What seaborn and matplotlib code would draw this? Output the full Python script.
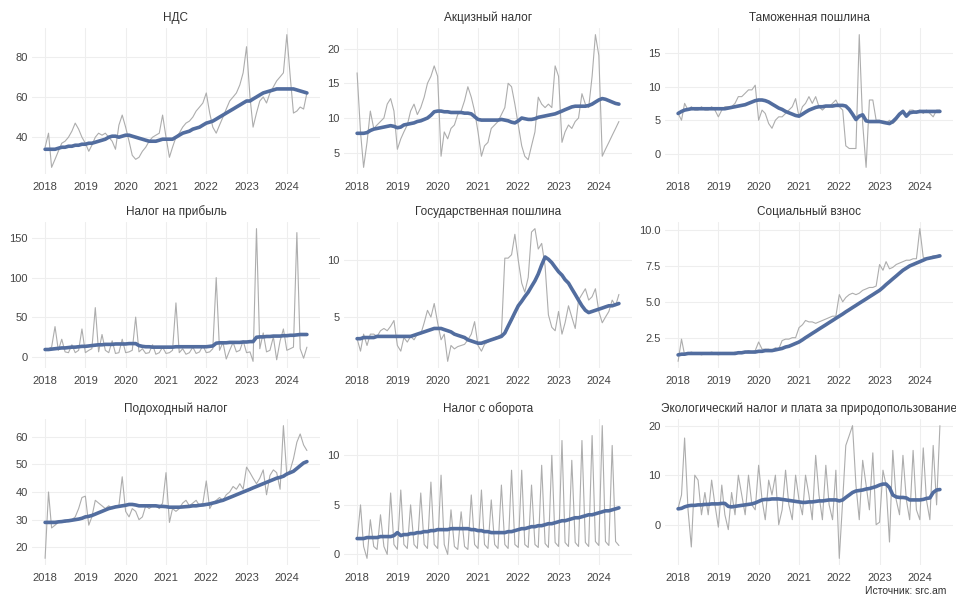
import matplotlib
matplotlib.use("Agg")
import matplotlib.pyplot as plt
import matplotlib.dates as mdates
import seaborn as sns
import pandas as pd

# monthly data, Jan 2018 - Jul 2024
months = pd.date_range("2018-01-01", periods=79, freq="MS")

titles = ["НДС", "Акцизный налог", "Таможенная пошлина",
          "Налог на прибыль", "Государственная пошлина", "Социальный взнос",
          "Подоходный налог", "Налог с оборота",
          "Экологический налог и плата за природопользование"]

vat = [35, 42, 25, 29, 33, 37, 38, 40, 43, 47, 44, 40,
       37, 33, 36, 40, 42, 41, 42, 40, 38, 34, 46, 51,
       45, 38, 31, 29, 30, 33, 35, 38, 40, 41, 42, 51,
       40, 30, 35, 40, 42, 45, 47, 48, 50, 53, 55, 57,
       62, 52, 45, 42, 46, 50, 54, 58, 60, 62, 66, 72,
       85, 60, 45, 52, 58, 60, 57, 62, 65, 68, 70, 72,
       91, 70, 52, 53, 55, 54, 62]
vat_trend = [34, 34, 34, 34, 34.5, 35, 35, 35.5, 35.5, 36, 36, 36.5,
             36.5, 37, 37, 37.5, 38, 38.5, 39, 40, 40.5, 40.5, 40, 40.5,
             41, 41, 40.5, 40, 39.5, 39, 38.5, 38, 38, 38, 38.5, 39,
             39, 39, 39, 40, 41, 42, 42.5, 43, 44, 44.5, 45, 46,
             47, 47.5, 48, 49, 50, 51, 52, 53, 54, 55, 56, 57,
             58, 58, 59, 60, 61, 62, 62.5, 63, 63.5, 64, 64, 64,
             64, 64, 64, 63.5, 63, 62.5, 62]

excise = [16.5, 8, 2.9, 6.5, 11, 8.5, 9, 9.5, 10, 12, 12.8, 11,
          5.5, 7, 8, 9, 11, 12, 10.5, 11.5, 13, 15, 16, 17.5,
          16, 4.5, 8, 7, 8.5, 9, 10.5, 11, 12.5, 14.5, 13, 11,
          8, 4.5, 6, 6.5, 8.5, 9, 9.5, 10.5, 11.5, 15, 14.5, 12,
          9, 6, 4.5, 4, 6, 8, 13, 12, 11.5, 12, 11.5, 17.5,
          16, 6.5, 8, 9, 8.5, 9.5, 10, 13.5, 12, 11.5, 16, 22,
          19, 4.5, 5.5, 6.5, 7.5, 8.5, 9.5]
excise_trend = [7.8, 7.8, 7.8, 7.9, 8.2, 8.4, 8.5, 8.6, 8.7, 8.8, 8.9, 8.8,
                8.6, 8.7, 9.0, 9.1, 9.2, 9.3, 9.5, 9.6, 9.8, 10.0, 10.4, 10.9,
                11.0, 11.0, 10.9, 10.9, 10.8, 10.8, 10.8, 10.8, 10.7, 10.7, 10.6, 10.2,
                9.8, 9.7, 9.7, 9.7, 9.7, 9.7, 9.7, 9.8, 9.7, 9.6, 9.4, 9.3,
                9.6, 10.0, 9.9, 9.8, 9.8, 9.9, 10.1, 10.2, 10.3, 10.4, 10.5, 10.6,
                10.8, 11.0, 11.2, 11.4, 11.6, 11.7, 11.7, 11.7, 11.7, 11.8, 12.0, 12.3,
                12.6, 12.8, 12.7, 12.5, 12.3, 12.1, 12.0]

customs = [6, 5, 7.5, 6.5, 7, 6.5, 6.5, 7, 6.5, 6.5, 7, 6.5,
           5.5, 6.5, 7, 7, 7, 7.5, 8.5, 8.5, 9, 9.5, 9.5, 10.2,
           5, 6.5, 6, 4.5, 3.8, 5, 5.5, 5.5, 6, 6.5, 7, 8.2,
           5.5, 7, 7.5, 8.5, 7.5, 8.5, 7, 6.5, 7, 7, 7.5, 8,
           7, 6.5, 1.2, 0.8, 0.8, 0.8, 17.7, 4.5, -2, 8, 8, 5,
           5, 4.5, 4.5, 5, 4.5, 5, 6, 6.5, 5.5, 6.5, 6.5, 6,
           6.5, 6, 6.5, 6, 5.5, 6.5, 6.5]
customs_trend = [6.0, 6.3, 6.5, 6.6, 6.7, 6.7, 6.7, 6.7, 6.7, 6.7, 6.7, 6.7,
                 6.7, 6.7, 6.7, 6.8, 6.9, 7.0, 7.1, 7.2, 7.3, 7.5, 7.7, 7.9,
                 8.0, 8.0, 7.9, 7.7, 7.4, 7.1, 6.8, 6.6, 6.3, 6.1, 5.9, 5.7,
                 5.6, 5.9, 6.2, 6.5, 6.7, 6.9, 7.0, 7.0, 7.1, 7.1, 7.1, 7.2,
                 7.2, 7.2, 7.1, 6.6, 5.9, 5.1, 5.6, 5.8, 4.9, 4.8, 4.8, 4.8,
                 4.8, 4.7, 4.6, 4.5, 4.8, 5.3, 5.9, 6.3, 5.6, 6.1, 6.2, 6.2,
                 6.3, 6.3, 6.3, 6.3, 6.3, 6.3, 6.3]

profit = [8, 10, 12, 38, 8, 22, 6, 5, 15, 5, 8, 35,
          5, 8, 10, 62, 6, 28, 8, 5, 20, 4, 5, 22,
          5, 6, 8, 50, 6, 10, 4, 5, 15, 3, 5, 12,
          4, 5, 8, 68, 5, 10, 3, 5, 12, 4, 6, 14,
          5, 6, 10, 100, 8, 18, -3, 8, 18, 6, 8, 20,
          5, 6, -6, 162, 10, 30, 6, 8, 25, -4, 20, 35,
          8, 10, 12, 157, 10, -2, 12]
profit_trend = [9, 9, 9.5, 10, 10.5, 11, 11, 11.5, 12, 12, 12.5, 13,
                13, 13.5, 14, 14.5, 15, 15, 15.5, 15.5, 15.5, 16, 16, 16,
                16, 16.5, 16.5, 16.5, 14, 13, 12.5, 12.5, 12, 12, 12, 12,
                12, 12, 12, 12.5, 12.5, 12.5, 12.5, 12.5, 12.5, 12.5, 12.5, 12.5,
                12.5, 13, 13.5, 17, 17.5, 17.5, 17.5, 18, 18, 18, 18, 18.5,
                18.5, 19, 19, 24.5, 25, 25, 25.5, 25.5, 26, 26, 26, 26.5,
                26.5, 27, 27, 27.5, 28, 28, 28]

duty = [3.1, 2.0, 3.5, 2.5, 3.5, 3.5, 3.3, 3.8, 4.0, 3.8, 4.2, 4.7,
        2.5, 2.0, 3.2, 2.8, 3.3, 3.0, 3.5, 3.5, 4.5, 5.6, 5.0, 6.2,
        4.5, 3.0, 3.5, 1.1, 2.5, 2.2, 2.4, 2.5, 2.6, 3.0, 3.5, 4.6,
        2.5, 2.0, 2.6, 2.8, 3.0, 3.2, 3.3, 3.5, 10.2, 10.2, 10.5, 12.3,
        10.0, 8.0, 7.2, 8.5, 12.5, 12.8, 11.0, 11.5, 9.5, 5.2, 4.1, 3.8,
        5.5, 3.5, 4.5, 6.0, 5.0, 4.0, 6.5, 7.0, 7.5, 6.5, 6.8, 7.5,
        5.5, 4.5, 5.0, 5.5, 6.5, 6.0, 7.0]
duty_trend = [3.1, 3.1, 3.2, 3.2, 3.2, 3.2, 3.3, 3.3, 3.3, 3.3, 3.3, 3.3,
              3.3, 3.3, 3.3, 3.3, 3.3, 3.4, 3.5, 3.6, 3.7, 3.8, 3.9, 4.0,
              4.0, 4.0, 3.9, 3.8, 3.7, 3.5, 3.4, 3.3, 3.2, 3.0, 2.9, 2.8,
              2.7, 2.7, 2.8, 2.9, 3.0, 3.1, 3.2, 3.3, 3.6, 4.2, 4.8, 5.4,
              6.0, 6.4, 6.8, 7.2, 7.7, 8.2, 8.8, 9.6, 10.3, 10.1, 9.8, 9.4,
              9.0, 8.7, 8.3, 8.0, 7.5, 7.0, 6.5, 6.0, 5.6, 5.4, 5.5, 5.6,
              5.7, 5.8, 5.9, 6.0, 6.0, 6.1, 6.2]

social = [0.85, 2.4, 1.3, 1.4, 1.5, 1.4, 1.4, 1.3, 1.4, 1.4, 1.5, 1.4,
          1.3, 1.4, 1.4, 1.4, 1.4, 1.5, 1.4, 1.5, 1.5, 1.6, 1.5, 1.6,
          2.2, 1.7, 1.7, 1.7, 1.6, 1.8, 1.7, 2.3, 2.4, 2.4, 2.5, 2.5,
          3.2, 3.4, 3.7, 3.6, 3.6, 3.5, 3.6, 3.7, 3.8, 3.9, 4.0, 4.0,
          5.5, 5.0, 5.3, 5.5, 5.6, 5.5, 5.6, 5.8, 5.9, 6.0, 6.0, 6.1,
          7.6, 7.2, 7.8, 7.3, 7.4, 7.6, 7.7, 7.8, 7.9, 7.9, 8.0, 8.0,
          10.1, 8.1, 8.0, 8.1, 8.2, 8.2, 8.3]
social_trend = [1.3, 1.35, 1.35, 1.4, 1.4, 1.4, 1.4, 1.4, 1.4, 1.4, 1.4, 1.4,
                1.4, 1.4, 1.4, 1.4, 1.4, 1.4, 1.45, 1.45, 1.5, 1.5, 1.5, 1.5,
                1.55, 1.55, 1.6, 1.6, 1.6, 1.65, 1.7, 1.75, 1.85, 1.9, 2.0, 2.1,
                2.2, 2.35, 2.5, 2.65, 2.8, 2.95, 3.1, 3.25, 3.4, 3.55, 3.7, 3.85,
                4.0, 4.15, 4.3, 4.45, 4.6, 4.75, 4.9, 5.05, 5.2, 5.35, 5.5, 5.65,
                5.8, 6.0, 6.2, 6.4, 6.6, 6.8, 7.0, 7.2, 7.35, 7.5, 7.6, 7.7,
                7.8, 7.9, 8.0, 8.05, 8.1, 8.15, 8.2]

income = [16, 40, 27, 28, 29, 29, 29, 30, 30, 31, 34, 38,
          38.5, 28, 31, 37, 36, 35, 34, 35, 34, 35, 35, 45.5,
          33, 31, 34, 33, 30, 31, 35, 34, 35, 35, 34, 36,
          47, 29, 34, 33, 34, 36, 37, 35, 36, 37, 35, 36,
          44, 34, 36, 37, 38, 37, 39, 40, 42, 41, 43, 41,
          49, 47, 45, 43, 45, 48, 39, 46, 48, 47, 41, 64,
          46, 48, 52, 58, 61, 57, 55]
income_trend = [29, 29, 29, 29, 29.2, 29.3, 29.5, 29.6, 29.8, 30, 30.2, 30.5,
                31, 31.2, 31.5, 32, 32.5, 33, 33.5, 34, 34.3, 34.6, 34.8, 35,
                35.2, 35.5, 35.5, 35.3, 35, 35, 35, 35, 35, 35, 34.8, 34.8,
                34.7, 34.5, 34.5, 34.5, 34.5, 34.6, 34.7, 34.8, 35, 35, 35.2, 35.3,
                35.5, 35.7, 36, 36.3, 36.7, 37, 37.5, 38, 38.5, 39, 39.5, 40,
                40.5, 41, 41.5, 42, 42.5, 43, 43.5, 44, 44.5, 45, 45.3, 45.7,
                46.5, 47, 47.5, 48.5, 49.5, 50.5, 51]

turnover = [1.5, 5.0, 0.8, -0.4, 3.5, 0.8, 0.5, 4.0, 0.8, 0.0, 6.2, 1.0,
            0.5, 6.5, 1.0, 0.6, 5.0, 1.0, 0.6, 6.2, 1.0, 0.6, 7.3, 1.0,
            0.6, 8.0, 1.0, 0.0, 4.5, 0.8, 0.5, 4.3, 0.8, 0.5, 6.0, 1.0,
            0.6, 6.5, 1.0, 0.6, 5.5, 1.0, 0.6, 7.0, 1.0, 0.6, 8.5, 1.0,
            0.7, 8.5, 1.0, 0.7, 7.0, 1.0, 0.7, 9.0, 1.1, 0.7, 10.0, 1.2,
            0.8, 11.5, 1.2, 0.8, 9.5, 1.2, 0.8, 11.5, 1.2, 0.8, 12.0, 1.3,
            0.9, 13.0, 1.3, 0.9, 11.0, 1.3, 0.9]
turnover_trend = [1.6, 1.6, 1.6, 1.7, 1.7, 1.7, 1.7, 1.8, 1.8, 1.8, 1.8, 1.9,
                  2.2, 1.9, 2.0, 2.0, 2.1, 2.1, 2.2, 2.2, 2.3, 2.3, 2.4, 2.4,
                  2.5, 2.5, 2.5, 2.5, 2.6, 2.6, 2.6, 2.6, 2.6, 2.6, 2.5, 2.5,
                  2.4, 2.4, 2.3, 2.3, 2.2, 2.2, 2.2, 2.2, 2.2, 2.3, 2.3, 2.4,
                  2.5, 2.6, 2.6, 2.7, 2.8, 2.8, 2.9, 2.9, 3.0, 3.1, 3.1, 3.2,
                  3.3, 3.4, 3.4, 3.5, 3.6, 3.7, 3.7, 3.8, 3.9, 4.0, 4.0, 4.1,
                  4.2, 4.3, 4.4, 4.4, 4.5, 4.6, 4.7]

eco = [3.3, 6, 17.5, 3, -4.5, 10, 9, 2, 6.5, 2, 9, 4,
       -0.5, 8, 2, -1, 6.5, 2, 10, 6, 2, 10, 4, 3,
       12, 5, 1, 9, 6, 10, 0, 3, 11, 4, 1, 10,
       5, 2, 10, 6, 1, 14, 6, 1, 12, 4, 1, 11,
       -6.8, 5, 16, 18, 20, 8, 1, 13, 8, 3, 14.5, 0,
       0.5, 11, 8, -3.5, 15, 5, 2, 14, 5, 1, 15, 3,
       1, 15.5, 5, 1, 16, 4, 20]
eco_trend = [3.2, 3.3, 3.6, 3.8, 3.9, 3.9, 4.0, 4.0, 4.1, 4.1, 4.2, 4.2,
             4.2, 4.3, 4.3, 3.7, 3.6, 3.7, 3.8, 3.9, 4.0, 4.1, 4.2, 4.4,
             4.7, 5.0, 5.1, 5.1, 5.2, 5.2, 5.2, 5.1, 5.0, 4.9, 4.8, 4.7,
             4.6, 4.5, 4.5, 4.6, 4.6, 4.7, 4.8, 4.8, 4.9, 5.0, 5.0, 5.0,
             4.8, 5.0, 5.5, 6.0, 6.5, 6.8, 6.9, 7.0, 7.2, 7.3, 7.5, 7.7,
             8.0, 8.2, 8.2, 7.5, 6.0, 5.6, 5.5, 5.5, 5.4, 5.0, 5.0, 5.0,
             5.0, 5.1, 5.3, 5.4, 6.5, 7.0, 7.1]

raw_series = [vat, excise, customs, profit, duty, social, income, turnover, eco]
trend_series = [vat_trend, excise_trend, customs_trend, profit_trend, duty_trend,
                social_trend, income_trend, turnover_trend, eco_trend]
yticks = [[40, 60, 80], [5, 10, 15, 20], [0, 5, 10, 15], [0, 50, 100, 150],
          [5, 10], [2.5, 5.0, 7.5, 10.0], [20, 30, 40, 50, 60], [0, 5, 10],
          [0, 10, 20]]

sns.set_style("whitegrid", {"grid.color": "#eeeeee", "axes.edgecolor": "white"})
plt.rcParams["font.family"] = ["Liberation Sans", "DejaVu Sans"]

W, H = 956, 600
col_left = [32, 344, 665]
row_top = [28, 222, 419]
ax_w, ax_h = 288, 146

fig = plt.figure(figsize=(W / 100, H / 100), dpi=100)
axes = [fig.add_axes([l / W, 1 - (t + ax_h) / H, ax_w / W, ax_h / H])
        for t in row_top for l in col_left]

for ax, title, raw, trend, yt in zip(axes, titles, raw_series, trend_series, yticks):
    sns.lineplot(x=months, y=raw, ax=ax, color="#adadad", linewidth=0.8)
    sns.lineplot(x=months, y=trend, ax=ax, color="#526d9f", linewidth=2.6)
    ax.set_title(title, fontsize=8.5, color="#333333", pad=5)
    ax.set_yticks(yt)
    if yt[0] == 2.5:
        ax.set_yticklabels([f"{v:.1f}" for v in yt])
    ax.xaxis.set_major_locator(mdates.YearLocator())
    ax.xaxis.set_major_formatter(mdates.DateFormatter("%Y"))
    ax.tick_params(labelsize=8, colors="#444444", length=0)
    ax.tick_params(axis="x", pad=6)
    ax.tick_params(axis="y", pad=3)
    ax.grid(True, color="#eeeeee", linewidth=0.8)
    ax.set_xlabel("")
    ax.set_ylabel("")
    sns.despine(ax=ax, left=True, bottom=True)

fig.text(0.99, 0.006, "Источник: src.am", ha="right", va="bottom",
         fontsize=7.5, color="#333333")

fig.savefig("out.png", dpi=100)
